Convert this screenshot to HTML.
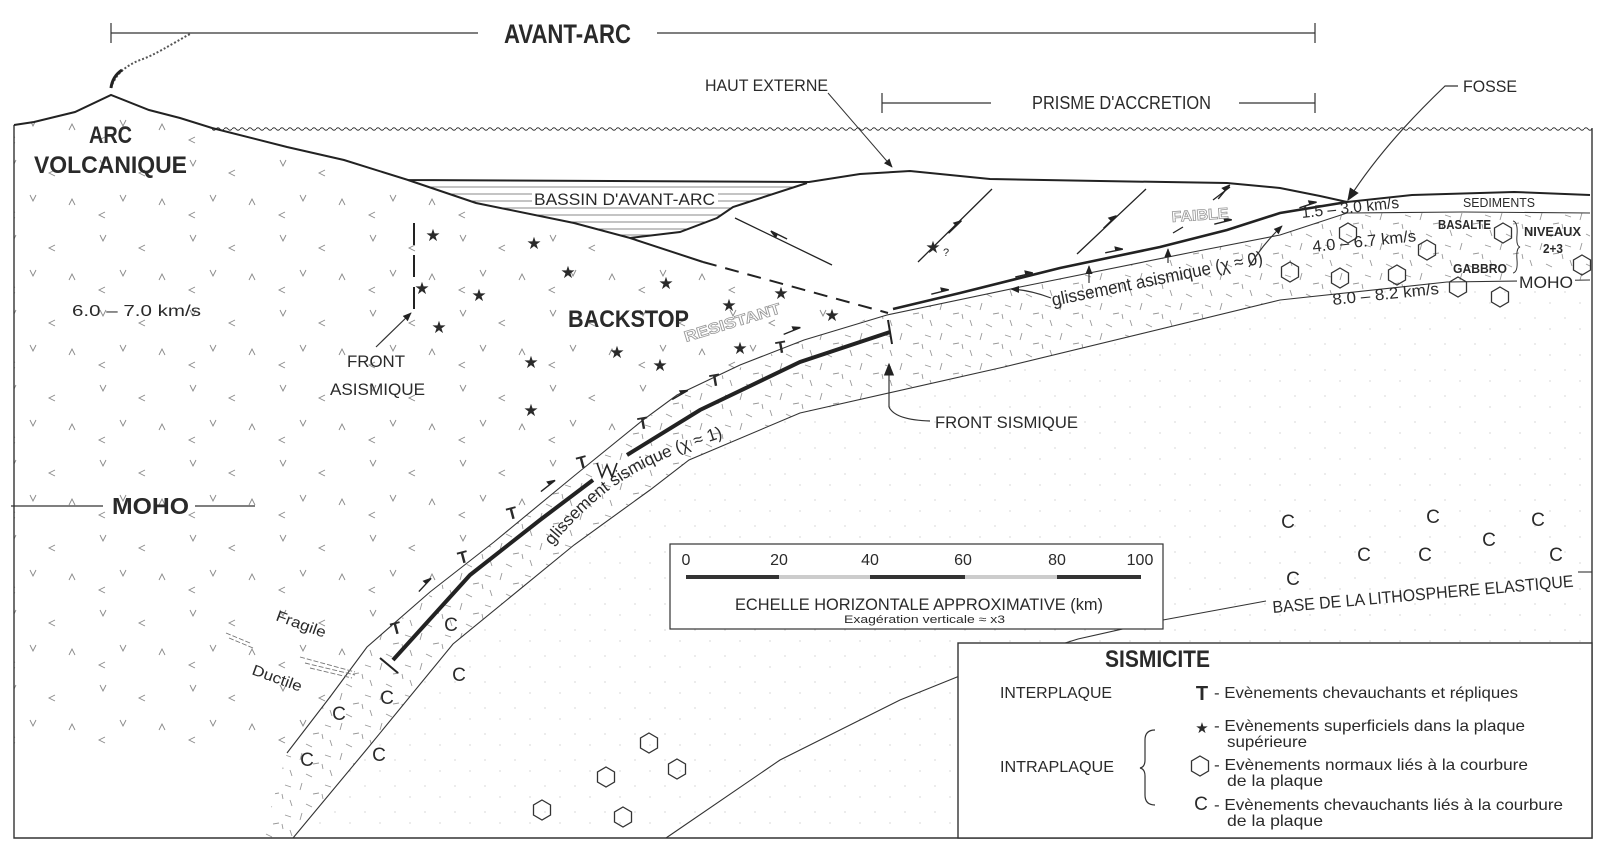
<!DOCTYPE html>
<html><head><meta charset="utf-8">
<style>
html,body{margin:0;padding:0;background:#fff;}
svg{display:block;}
text{font-family:"Liberation Sans",sans-serif;fill:#2a2a2a;}
.b{font-weight:bold;}
</style></head>
<body>
<svg width="1600" height="855" viewBox="0 0 1600 855" xmlns="http://www.w3.org/2000/svg">
<defs>
  <pattern id="wave" x="0" y="0" width="8" height="6" patternUnits="userSpaceOnUse">
    <path d="M0,3 Q2,0.5 4,3 Q6,5.5 8,3" fill="none" stroke="#333" stroke-width="1"/>
  </pattern>
  <pattern id="vmarks" x="0" y="0" width="90" height="75" patternUnits="userSpaceOnUse">
    <path d="M10,10 l3,6 l3,-6 M55,20 l-6,3 l6,3 M30,45 l3,6 l3,-6 M75,55 l-3,-6 l-3,6 M15,62 l-6,3 l6,3" fill="none" stroke="#888" stroke-width="0.9"/>
  </pattern>
  <pattern id="dashes" x="0" y="0" width="40" height="30" patternUnits="userSpaceOnUse">
    <path d="M5,5 l6,2 M22,3 l-2,7 M33,14 l6,-1 M10,20 l2,6 M26,24 l6,3 M2,14 l1,5" fill="none" stroke="#999" stroke-width="0.9"/>
  </pattern>
  <pattern id="dots" x="0" y="0" width="30" height="26" patternUnits="userSpaceOnUse">
    <circle cx="5" cy="6" r="0.6" fill="#bbb"/><circle cx="20" cy="17" r="0.6" fill="#bbb"/>
  </pattern>
  <clipPath id="basin"><path d="M408,180 L809,182 L733,207 L717,218 L680,232 L630,238 L574,223 L476,203 Z"/></clipPath>
  <marker id="ah" viewBox="0 0 10 10" refX="9" refY="5" markerWidth="9" markerHeight="9" orient="auto-start-reverse" markerUnits="userSpaceOnUse">
    <path d="M0,1 L10,5 L0,9 Z" fill="#222"/>
  </marker>
  <marker id="ahb" viewBox="0 0 10 10" refX="9" refY="5" markerWidth="13" markerHeight="13" orient="auto" markerUnits="userSpaceOnUse">
    <path d="M0,1 L10,5 L0,9 Z" fill="#222"/>
  </marker>
  <path id="hex" d="M0,-10 L8.5,-5 L8.5,5 L0,10 L-8.5,5 L-8.5,-5 Z" fill="none" stroke="#333" stroke-width="1.3"/>
  <path id="half" d="M-9,0 L9,0 M9,0 L2,-3.5 L2,0 Z" fill="#222" stroke="#222" stroke-width="1.4"/>
  <path id="sispath" d="M552,546 Q590,500 630,476 T748,430"/>
</defs>

<path d="M14,125 L34,122 L75,112 L111,95 L149,110 L212,128 L287,147 L344,160 L408,180 L476,203 L574,223 L630,238 L703,262 L888,313 L804,340 L677,395 L574,476 L494,542 L367,647 L287,753 L14,753 Z" fill="url(#vmarks)"/>
<path d="M287,753 L367,647 L494,542 L574,476 L677,395 L804,340 L887,315 L1020,287 L1193,252 L1280,235 L1347,213 L1463,212 L1590,213 L1590,280 L1447,282 L1280,300 L1004,367 L800,413 L689,460 L574,545 L453,644 L367,749 L293,838 L262,838 Z" fill="url(#dashes)"/>
<path d="M293,838 L367,749 L453,644 L574,545 L689,460 L800,413 L1004,367 L1280,300 L1447,282 L1590,280 L1590,838 Z" fill="url(#dots)"/>

<path d="M14,125 L14,838 L1592,838 L1592,128" fill="none" stroke="#333" stroke-width="1.4"/>
<rect x="212" y="126" width="1380" height="6" fill="url(#wave)"/>

<path d="M14,125 L34,122 L75,112 L111,95 L149,110 L180,118 L212,128 L287,147 L344,160 L408,180 L809,182 L860,174 L910,171 L990,179 L1100,181 L1227,183 L1280,188 L1320,196 L1347,202 L1412,195 L1514,192 L1590,195" fill="none" stroke="#222" stroke-width="2"/>
<g clip-path="url(#basin)" stroke="#888" stroke-width="0.9">
  <line x1="400" y1="187" x2="820" y2="187"/><line x1="400" y1="194" x2="820" y2="194"/>
  <line x1="400" y1="201" x2="820" y2="201"/><line x1="400" y1="208" x2="820" y2="208"/>
  <line x1="400" y1="215" x2="820" y2="215"/><line x1="400" y1="222" x2="820" y2="222"/>
  <line x1="400" y1="229" x2="820" y2="229"/><line x1="400" y1="235" x2="820" y2="235"/>
</g>
<path d="M408,180 L476,203 L574,223 L630,238 L680,232 L717,218 L733,207 L807,183" fill="none" stroke="#222" stroke-width="2"/>
<rect x="532" y="190" width="186" height="17" fill="#fff"/>
<path d="M630,238 L703,262" stroke="#222" stroke-width="2"/>
<path d="M703,262 L888,313" stroke="#222" stroke-width="2" stroke-dasharray="14,9"/>

<path d="M735,218 L832,265 M918,262 L992,189 M1077,254 L1146,189 M1213,200 L1230,187 M1173,233 L1183,227" stroke="#222" stroke-width="1.3" fill="none"/>
<use href="#half" transform="translate(779,235) rotate(206)"/>
<use href="#half" transform="translate(955,227) rotate(-44)"/>
<use href="#half" transform="translate(1110,222) rotate(-44)"/>
<use href="#half" transform="translate(1224,192) rotate(-50)"/>

<path d="M893,309 L960,293 L1060,268 L1160,247 L1227,230 L1280,213 L1347,202" fill="none" stroke="#222" stroke-width="2.6"/>
<path d="M287,753 L330,697 L367,647 L430,592 L494,542 L574,476 L643,420 L677,395 L740,365 L804,340 L887,315 L1020,287 L1193,252 L1280,235 L1347,213 L1463,212 L1590,213" fill="none" stroke="#333" stroke-width="1.1"/>
<path d="M293,838 L367,749 L453,644 L574,545 L650,490 L689,460 L800,413 L1004,367 L1280,300 L1447,282 L1590,280" fill="none" stroke="#333" stroke-width="1.1"/>
<path d="M666,838 L780,760 L900,700 L962,675 L1078,639 L1163,620 L1266,601" fill="none" stroke="#333" stroke-width="1.1"/>
<path d="M1578,572 L1592,572" stroke="#333" stroke-width="1.1"/>

<path d="M393,660 L470,575 L540,520 L593,480" fill="none" stroke="#222" stroke-width="4"/>
<path d="M380,658 L398,673" stroke="#222" stroke-width="2"/>
<path d="M597,463 L602,477 L607,465 L612,477 L617,463" fill="none" stroke="#222" stroke-width="1.6"/>
<path d="M627,455 L700,410 L800,362 L890,332" fill="none" stroke="#222" stroke-width="4"/>
<path d="M888,320 L892,344" stroke="#222" stroke-width="2"/>

<use href="#half" transform="translate(425,585) rotate(-47)"/>
<use href="#half" transform="translate(548,486) rotate(-38)"/>
<use href="#half" transform="translate(680,395) rotate(-30)"/>
<use href="#half" transform="translate(792,331) rotate(-22)"/>
<use href="#half" transform="translate(940,292) rotate(-14)"/>
<use href="#half" transform="translate(1024,275) rotate(-13)"/>
<use href="#half" transform="translate(1114,251) rotate(-12)"/>
<use href="#half" transform="translate(1223,222) rotate(-14)"/>
<use href="#half" transform="translate(1308,205) rotate(-18)"/>

<g font-size="17" fill="#222">
  <text x="396" y="634" text-anchor="middle" transform="rotate(-15 396 628)" class="b">T</text>
  <text x="463" y="563" text-anchor="middle" transform="rotate(-15 463 557)" class="b">T</text>
  <text x="512" y="519" text-anchor="middle" transform="rotate(-15 512 513)" class="b">T</text>
  <text x="582" y="468" text-anchor="middle" transform="rotate(-15 582 462)" class="b">T</text>
  <text x="643" y="429" text-anchor="middle" transform="rotate(-10 643 423)" class="b">T</text>
  <text x="715" y="386" text-anchor="middle" transform="rotate(-10 715 380)" class="b">T</text>
  <text x="781" y="353" text-anchor="middle" transform="rotate(-10 781 347)" class="b">T</text>
</g>

<g font-size="17" fill="#222" text-anchor="middle">
  <text x="433" y="241" style="font-family:'DejaVu Sans'">★</text>
  <text x="534" y="249" style="font-family:'DejaVu Sans'">★</text>
  <text x="568" y="278" style="font-family:'DejaVu Sans'">★</text>
  <text x="666" y="289" style="font-family:'DejaVu Sans'">★</text>
  <text x="422" y="294" style="font-family:'DejaVu Sans'">★</text>
  <text x="479" y="301" style="font-family:'DejaVu Sans'">★</text>
  <text x="781" y="299" style="font-family:'DejaVu Sans'">★</text>
  <text x="729" y="311" style="font-family:'DejaVu Sans'">★</text>
  <text x="832" y="321" style="font-family:'DejaVu Sans'">★</text>
  <text x="439" y="333" style="font-family:'DejaVu Sans'">★</text>
  <text x="617" y="358" style="font-family:'DejaVu Sans'">★</text>
  <text x="660" y="371" style="font-family:'DejaVu Sans'">★</text>
  <text x="740" y="354" style="font-family:'DejaVu Sans'">★</text>
  <text x="531" y="368" style="font-family:'DejaVu Sans'">★</text>
  <text x="531" y="416" style="font-family:'DejaVu Sans'">★</text>
  <text x="933" y="253" style="font-family:'DejaVu Sans'">★</text>
</g>
<text x="943" y="256" font-size="11">?</text>

<g>
  <use href="#hex" x="1348" y="233"/><use href="#hex" x="1427" y="250"/><use href="#hex" x="1503" y="233"/>
  <use href="#hex" x="1290" y="272"/><use href="#hex" x="1340" y="278"/><use href="#hex" x="1397" y="275"/>
  <use href="#hex" x="1458" y="287"/><use href="#hex" x="1500" y="297"/><use href="#hex" x="1582" y="265"/>
  <use href="#hex" x="649" y="743"/><use href="#hex" x="677" y="769"/><use href="#hex" x="606" y="777"/>
  <use href="#hex" x="542" y="810"/><use href="#hex" x="623" y="817"/>
</g>

<g font-size="19" text-anchor="middle" fill="#333">
  <text x="451" y="631">C</text><text x="459" y="681">C</text><text x="387" y="704">C</text>
  <text x="339" y="720">C</text><text x="307" y="766">C</text><text x="379" y="761">C</text>
  <text x="1288" y="528">C</text><text x="1433" y="523">C</text><text x="1538" y="526">C</text>
  <text x="1364" y="561">C</text><text x="1425" y="561">C</text><text x="1489" y="546">C</text>
  <text x="1556" y="561">C</text><text x="1293" y="585">C</text>
</g>

<path d="M414,223 L414,317" stroke="#222" stroke-width="2" stroke-dasharray="22,10"/>

<path d="M111,88 C115,75 125,66 140,60 C155,55 170,45 190,34" fill="none" stroke="#555" stroke-width="2" stroke-dasharray="2,2"/>
<path d="M111,88 C112,80 116,74 122,70" fill="none" stroke="#222" stroke-width="3"/>

<path d="M111,33 L478,33 M657,33 L1315,33 M111,23 L111,43 M1315,23 L1315,43" stroke="#333" stroke-width="1.2"/>
<text x="504" y="43" font-size="27" class="b" textLength="127" lengthAdjust="spacingAndGlyphs">AVANT-ARC</text>
<path d="M882,103 L991,103 M1239,103 L1315,103 M882,93 L882,113 M1315,93 L1315,113" stroke="#333" stroke-width="1.2"/>
<text x="1032" y="109" font-size="18" textLength="179" lengthAdjust="spacingAndGlyphs">PRISME D'ACCRETION</text>
<text x="705" y="91" font-size="17" textLength="123" lengthAdjust="spacingAndGlyphs">HAUT EXTERNE</text>
<path d="M828,93 L892,167" stroke="#333" stroke-width="1" marker-end="url(#ah)"/>
<text x="1463" y="92" font-size="17" textLength="54" lengthAdjust="spacingAndGlyphs">FOSSE</text>
<path d="M1458,86 L1445,86 C1420,110 1380,150 1348,200" fill="none" stroke="#333" stroke-width="1.2" marker-end="url(#ahb)"/>

<text x="89" y="143" font-size="24" class="b" textLength="43" lengthAdjust="spacingAndGlyphs">ARC</text>
<text x="34" y="173" font-size="24" class="b" textLength="153" lengthAdjust="spacingAndGlyphs">VOLCANIQUE</text>
<text x="72" y="316" font-size="16" textLength="129" lengthAdjust="spacingAndGlyphs">6.0 – 7.0 km/s</text>
<text x="347" y="367" font-size="17" textLength="58" lengthAdjust="spacingAndGlyphs">FRONT</text>
<text x="330" y="395" font-size="17" textLength="95" lengthAdjust="spacingAndGlyphs">ASISMIQUE</text>
<path d="M376,347 L411,313" stroke="#333" stroke-width="1.2" marker-end="url(#ah)"/>
<text x="568" y="327" font-size="24" class="b" textLength="121" lengthAdjust="spacingAndGlyphs">BACKSTOP</text>
<text x="686" y="342" font-size="15" class="b" transform="rotate(-17 686 342)" textLength="100" lengthAdjust="spacingAndGlyphs" style="fill:#fff;stroke:#999;stroke-width:0.8">RESISTANT</text>
<text x="534" y="205" font-size="17" textLength="181" lengthAdjust="spacingAndGlyphs">BASSIN D'AVANT-ARC</text>
<path d="M11,506 L103,506 M195,506 L255,506" stroke="#333" stroke-width="1.2"/>
<text x="112" y="514" font-size="23" class="b" textLength="77" lengthAdjust="spacingAndGlyphs">MOHO</text>
<text x="275" y="620" font-size="15" transform="rotate(20 275 620)" textLength="52" lengthAdjust="spacingAndGlyphs">Fragile</text>
<text x="251" y="674" font-size="15" transform="rotate(20 251 674)" textLength="52" lengthAdjust="spacingAndGlyphs">Ductile</text>
<path d="M226,633 L250,643 M229,638 L253,648 M300,657 L355,672 M305,663 L355,675 M310,668 L352,678" stroke="#777" stroke-width="0.9" stroke-dasharray="5,2"/>
<text font-size="17"><textPath href="#sispath">glissement  sismique (χ ≈ 1)</textPath></text>

<path d="M889,407 L889,364" stroke="#333" stroke-width="1.2" marker-end="url(#ahb)"/>
<path d="M889,407 Q895,420 930,421" fill="none" stroke="#333" stroke-width="1.2"/>
<text x="935" y="428" font-size="17" textLength="143" lengthAdjust="spacingAndGlyphs">FRONT SISMIQUE</text>

<text x="1053" y="306" font-size="18" transform="rotate(-11.5 1053 306)" textLength="215" lengthAdjust="spacingAndGlyphs">glissement asismique (χ ≈ 0)</text>
<path d="M1051,298 Q1030,290 1011,289" fill="none" stroke="#333" stroke-width="1.2" marker-end="url(#ah)"/>
<path d="M1249,267 Q1262,245 1282,226" fill="none" stroke="#333" stroke-width="1.2" marker-end="url(#ah)"/>
<path d="M1089,283 L1089,266" stroke="#333" stroke-width="1.2" marker-end="url(#ah)"/>
<path d="M1168,263 L1168,249" stroke="#333" stroke-width="1.2" marker-end="url(#ah)"/>
<text x="1172" y="222" font-size="15" class="b" transform="rotate(-4 1172 222)" textLength="57" lengthAdjust="spacingAndGlyphs" style="fill:#fff;stroke:#999;stroke-width:0.8">FAIBLE</text>
<text x="1302" y="218" font-size="16" transform="rotate(-6 1302 218)" textLength="98" lengthAdjust="spacingAndGlyphs">1.5 – 3.0 km/s</text>
<text x="1313" y="252" font-size="16" transform="rotate(-6 1313 252)" textLength="104" lengthAdjust="spacingAndGlyphs">4.0 – 6.7 km/s</text>
<text x="1333" y="305" font-size="16" transform="rotate(-6 1333 305)" textLength="107" lengthAdjust="spacingAndGlyphs">8.0 – 8.2 km/s</text>
<text x="1463" y="207" font-size="13" textLength="72" lengthAdjust="spacingAndGlyphs">SEDIMENTS</text>
<text x="1438" y="229" font-size="13" class="b" textLength="53" lengthAdjust="spacingAndGlyphs">BASALTE</text>
<text x="1453" y="273" font-size="13" class="b" textLength="54" lengthAdjust="spacingAndGlyphs">GABBRO</text>
<text x="1524" y="236" font-size="13" class="b" textLength="57" lengthAdjust="spacingAndGlyphs">NIVEAUX</text>
<text x="1543" y="253" font-size="13" class="b" textLength="20" lengthAdjust="spacingAndGlyphs">2+3</text>
<path d="M1513,221 Q1518,222 1517,235 Q1516,246 1520,247 Q1516,248 1517,260 Q1518,272 1513,273" fill="none" stroke="#333" stroke-width="1"/>
<rect x="1517" y="273" width="58" height="17" fill="#fff"/>
<text x="1519" y="288" font-size="17" textLength="54" lengthAdjust="spacingAndGlyphs">MOHO</text>

<rect x="670" y="544" width="493" height="85" fill="#fff" stroke="#333" stroke-width="1.2"/>
<g font-size="16" text-anchor="middle">
  <text x="686" y="565">0</text><text x="779" y="565">20</text><text x="870" y="565">40</text>
  <text x="963" y="565">60</text><text x="1057" y="565">80</text><text x="1140" y="565">100</text>
</g>
<rect x="686" y="575" width="455" height="4" fill="#ccc"/>
<rect x="686" y="575" width="93" height="4" fill="#333"/>
<rect x="870" y="575" width="95" height="4" fill="#333"/>
<rect x="1057" y="575" width="84" height="4" fill="#333"/>
<text x="735" y="610" font-size="17" textLength="368" lengthAdjust="spacingAndGlyphs">ECHELLE HORIZONTALE APPROXIMATIVE (km)</text>
<text x="844" y="623" font-size="11" textLength="161" lengthAdjust="spacingAndGlyphs">Exagération verticale ≈ x3</text>

<text x="1273" y="613" font-size="17" transform="rotate(-5 1273 613)" textLength="302" lengthAdjust="spacingAndGlyphs">BASE DE LA LITHOSPHERE ELASTIQUE</text>

<rect x="958" y="643" width="634" height="195" fill="#fff" stroke="#333" stroke-width="1.4"/>
<text x="1105" y="667" font-size="24" class="b" textLength="105" lengthAdjust="spacingAndGlyphs">SISMICITE</text>
<text x="1000" y="698" font-size="16" textLength="112" lengthAdjust="spacingAndGlyphs">INTERPLAQUE</text>
<text x="1000" y="772" font-size="16" textLength="114" lengthAdjust="spacingAndGlyphs">INTRAPLAQUE</text>
<path d="M1155,730 Q1145,730 1145,740 L1145,760 Q1145,767 1140,768 Q1145,769 1145,776 L1145,795 Q1145,805 1155,805" fill="none" stroke="#333" stroke-width="1.2"/>
<text x="1202" y="700" font-size="20" class="b" text-anchor="middle">T</text>
<text x="1202" y="733" font-size="15" text-anchor="middle" style="font-family:'DejaVu Sans'">★</text>
<use href="#hex" x="1200" y="766"/>
<text x="1201" y="810" font-size="19" text-anchor="middle">C</text>
<g font-size="16">
  <text x="1214" y="698" textLength="304" lengthAdjust="spacingAndGlyphs">- Evènements chevauchants et répliques</text>
  <text x="1214" y="731" textLength="311" lengthAdjust="spacingAndGlyphs">- Evènements superficiels dans la plaque</text>
  <text x="1227" y="747" textLength="80" lengthAdjust="spacingAndGlyphs">supérieure</text>
  <text x="1214" y="770" textLength="314" lengthAdjust="spacingAndGlyphs">- Evènements normaux liés à la courbure</text>
  <text x="1227" y="786" textLength="96" lengthAdjust="spacingAndGlyphs">de la plaque</text>
  <text x="1214" y="810" textLength="349" lengthAdjust="spacingAndGlyphs">- Evènements chevauchants liés à la courbure</text>
  <text x="1227" y="826" textLength="96" lengthAdjust="spacingAndGlyphs">de la plaque</text>
</g>
</svg>
</body></html>
